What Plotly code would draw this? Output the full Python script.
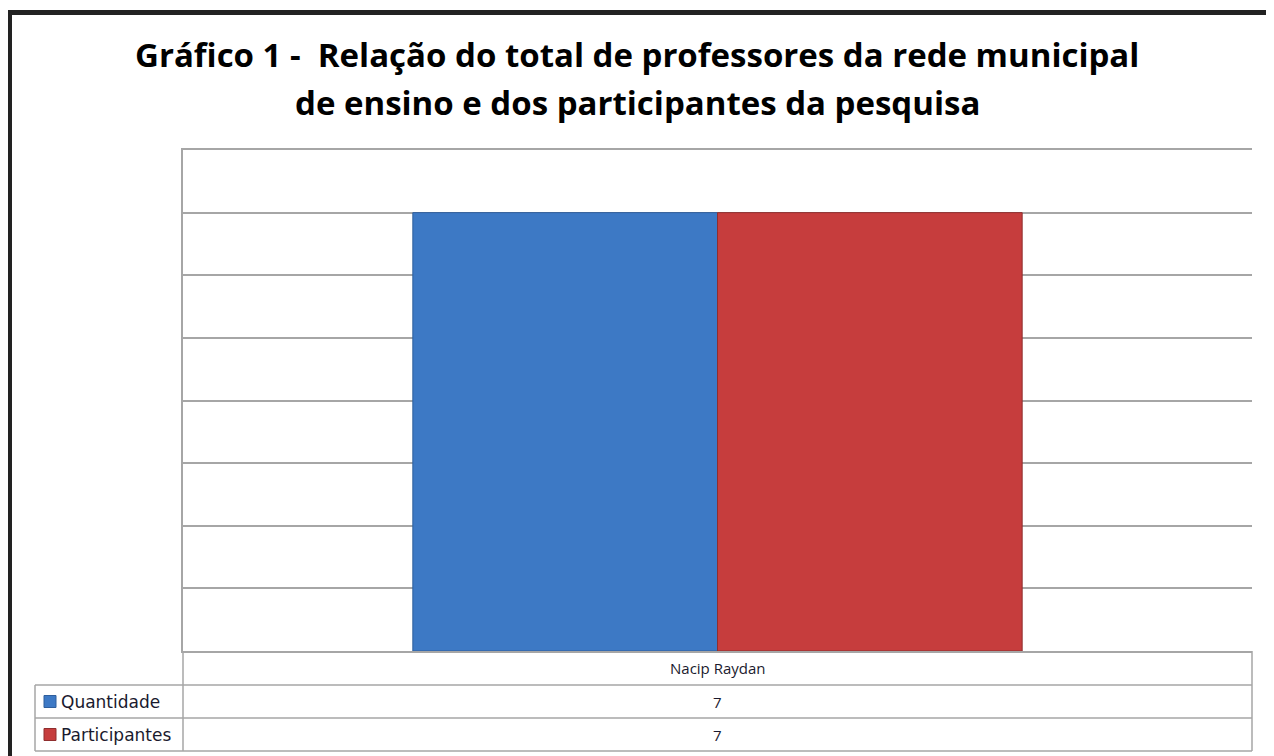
import plotly.graph_objects as go

# dados
categorias = ['Nacip Raydan']
series = ['Quantidade', 'Participantes']
quantidade = [7]
participantes = [7]
valores = [quantidade, participantes]

titulo_1 = 'Gráfico 1 -  Relação do total de professores da rede municipal'
titulo_2 = 'de ensino e dos participantes da pesquisa'

cores = ['#3D79C5', '#C63D3D']
bordas = ['#2F5E9C', '#8F2E2E']
cinza = '#A6A6A6'

# a pagina tem 8px de margem no body; a figura ocupa o resto da janela
OFF = 8
W, H = 1274 - OFF, 756 - OFF


def px(x):
    return (x - OFF) / W


def py(y):
    return 1 - (y - OFF) / H


fig = go.Figure()
for nome, vals, cor, borda in zip(series, valores, cores, bordas):
    fig.add_trace(go.Bar(
        x=categorias, y=vals, name=nome,
        marker=dict(color=cor, line=dict(color=borda, width=1)),
        showlegend=False, hoverinfo='name+y'
    ))

shapes = []
annotations = []

# moldura externa
shapes.append(dict(type='rect', xref='paper', yref='paper', x0=px(5), x1=px(1280),
                   y0=py(15), y1=py(10), fillcolor='#222222', line_width=0))
shapes.append(dict(type='rect', xref='paper', yref='paper', x0=px(7), x1=px(12),
                   y0=py(770), y1=py(10), fillcolor='#222222', line_width=0))
shapes.append(dict(type='line', xref='paper', yref='paper', x0=px(1272), x1=px(1272),
                   y0=py(770), y1=py(12), line=dict(color='#333333', width=1.5)))

# tabela de dados
linha = dict(color=cinza, width=1.5)
xl, xm, xr = 35, 183, 1252
y_rows = [651, 685, 718, 751]
for yy in y_rows[1:]:
    shapes.append(dict(type='line', xref='paper', yref='paper', x0=px(xl), x1=px(xr),
                       y0=py(yy), y1=py(yy), line=linha))
shapes.append(dict(type='line', xref='paper', yref='paper', x0=px(xl), x1=px(xl),
                   y0=py(y_rows[1]), y1=py(y_rows[3]), line=linha))
shapes.append(dict(type='line', xref='paper', yref='paper', x0=px(xm), x1=px(xm),
                   y0=py(y_rows[0]), y1=py(y_rows[3]), line=linha))
shapes.append(dict(type='line', xref='paper', yref='paper', x0=px(xr), x1=px(xr),
                   y0=py(y_rows[0]), y1=py(y_rows[3]), line=linha))

fonte_tab = dict(family='Open Sans', size=15, color='#1A1A2E')
xc = (xm + xr) / 2
annotations.append(dict(text=categorias[0], xref='paper', yref='paper', x=px(xc),
                        y=py((y_rows[0] + y_rows[1]) / 2), xanchor='center', yanchor='middle',
                        showarrow=False, font=fonte_tab))
for i, (nome, vals, cor, borda) in enumerate(zip(series, valores, cores, bordas)):
    y0, y1 = y_rows[i + 1], y_rows[i + 2]
    ym = (y0 + y1) / 2
    shapes.append(dict(type='rect', xref='paper', yref='paper', x0=px(44), x1=px(56),
                       y0=py(ym + 6), y1=py(ym - 6), fillcolor=cor, line=dict(color=borda, width=1)))
    annotations.append(dict(text=nome, xref='paper', yref='paper', x=px(59), y=py(ym),
                            xanchor='left', yanchor='middle', showarrow=False,
                            font=dict(family='DejaVu Sans', size=17, color='#1A1A2E')))
    annotations.append(dict(text=str(vals[0]), xref='paper', yref='paper', x=px(xc), y=py(ym),
                            xanchor='center', yanchor='middle', showarrow=False, font=fonte_tab))

# titulo
fonte_tit = dict(family='Open Sans', size=33, color='black')
annotations.append(dict(text='<b>' + titulo_1 + '</b>', xref='paper', yref='paper', x=px(637),
                        y=py(54), xanchor='center', yanchor='middle', showarrow=False, font=fonte_tit))
annotations.append(dict(text='<b>' + titulo_2 + '</b>', xref='paper', yref='paper', x=px(637),
                        y=py(102), xanchor='center', yanchor='middle', showarrow=False, font=fonte_tit))

fig.update_layout(
    width=W, height=H,
    margin=dict(l=0, r=0, t=0, b=0),
    paper_bgcolor='white', plot_bgcolor='white',
    barmode='group', bargap=0.43, bargroupgap=0,
    xaxis=dict(domain=[px(xm), px(xr)], showticklabels=False, showline=True, mirror=True,
               linecolor=cinza, linewidth=1.5, showgrid=False, fixedrange=True),
    yaxis=dict(domain=[py(651), py(150)], range=[0, 8], dtick=1, showticklabels=False,
               gridcolor=cinza, gridwidth=1.5, showline=True, linecolor=cinza, linewidth=1.5,
               zeroline=False, fixedrange=True),
    shapes=shapes, annotations=annotations,
)

fig.write_html('out.html')
